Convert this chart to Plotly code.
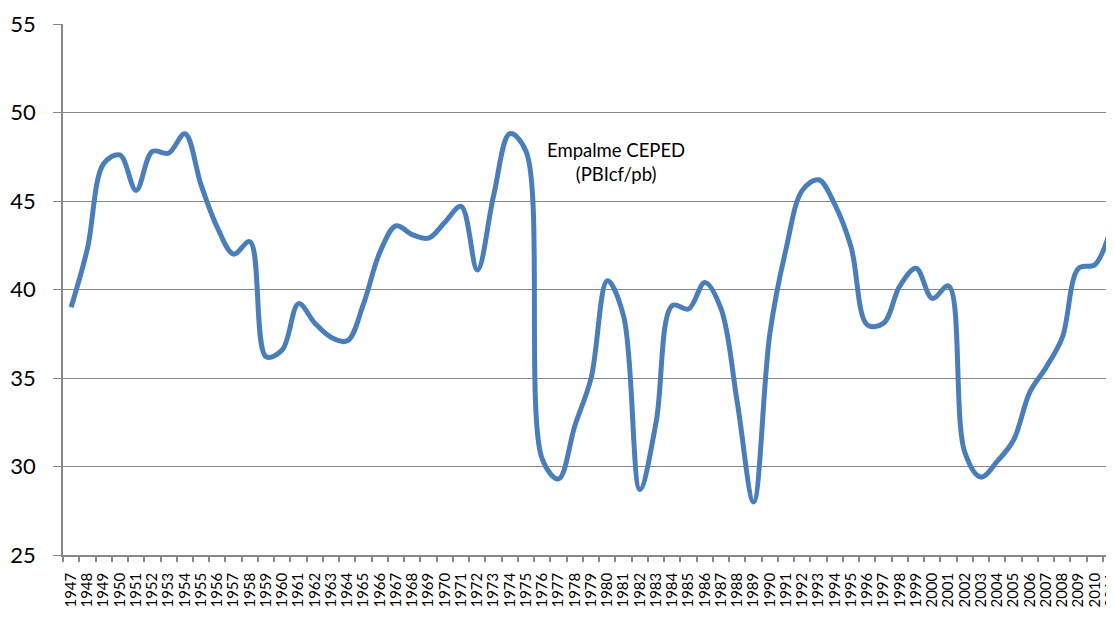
import plotly.graph_objects as go

years = [str(y) for y in range(1947, 2012)]

empalme = [39.0, 42.3, 47.1, 47.6, 45.6, 47.8, 47.7, 48.8, 45.9, 43.5,
           42.0, 42.7, 36.2, 36.6, 39.2, 38.1, 37.3, 37.1, 39.2, 42.1,
           43.6, 43.1, 42.9, 43.8, 44.7, 41.1, 45.3, 48.8, 47.8, 30.4,
           29.3, 32.3, 35.0, 40.5, 38.5, 28.7, 32.5, 39.1, 38.9, 40.4,
           38.9, 33.6, 28.0, 37.5, 42.3, 45.6, 46.2, 44.8, 42.4, 38.0,
           38.1, 40.2, 41.2, 39.5, 40.2, 30.8, 29.4, 30.3, 31.5, 34.2,
           35.6, 37.3, 41.2, 41.4, 43.5]

y_ticks = [25, 30, 35, 40, 45, 50, 55]

grey = '#878787'
blue = '#4A7EBB'

fig = go.Figure()
fig.add_trace(go.Scatter(x=years, y=empalme, mode='lines', name='Empalme CEPED',
                         line=dict(color=blue, width=5, shape='spline', smoothing=1),
                         showlegend=False))

# series label sits inside the plot, near the 1974 peak
fig.add_annotation(x=0.526, y=0.741, xref='paper', yref='paper',
                   xanchor='center', yanchor='middle',
                   text='Empalme CEPED<br>(PBIcf/pb)', showarrow=False,
                   font=dict(family='Lato', size=18.5, color='black'))

# page body has an 8px margin, so the figure is a bit smaller than the window
fig.update_layout(width=1106, height=609, autosize=False,
                  margin=dict(l=55, r=0, t=16, b=62),
                  plot_bgcolor='white', paper_bgcolor='white',
                  font=dict(family='Lato', color='black'))

fig.update_xaxes(type='category', range=[-0.5, 64.18], tickson='boundaries',
                 tickmode='linear', dtick=1,
                 showline=True, linecolor=grey, linewidth=1.5,
                 ticks='outside', ticklen=5, tickcolor=grey, tickwidth=1.5,
                 tickangle=-90, tickfont=dict(size=15, color='black'),
                 ticklabelstandoff=10,
                 showgrid=False, automargin=False)

fig.update_yaxes(range=[25, 55], tickvals=y_ticks, showgrid=True, gridcolor=grey, gridwidth=1.2,
                 showline=True, linecolor=grey, linewidth=1.5,
                 ticks='outside', ticklen=8, tickcolor=grey, tickwidth=1.2,
                 ticklabelstandoff=13,
                 tickfont=dict(size=22, color='black'), zeroline=False, automargin=False)

fig.write_html("out.html")
